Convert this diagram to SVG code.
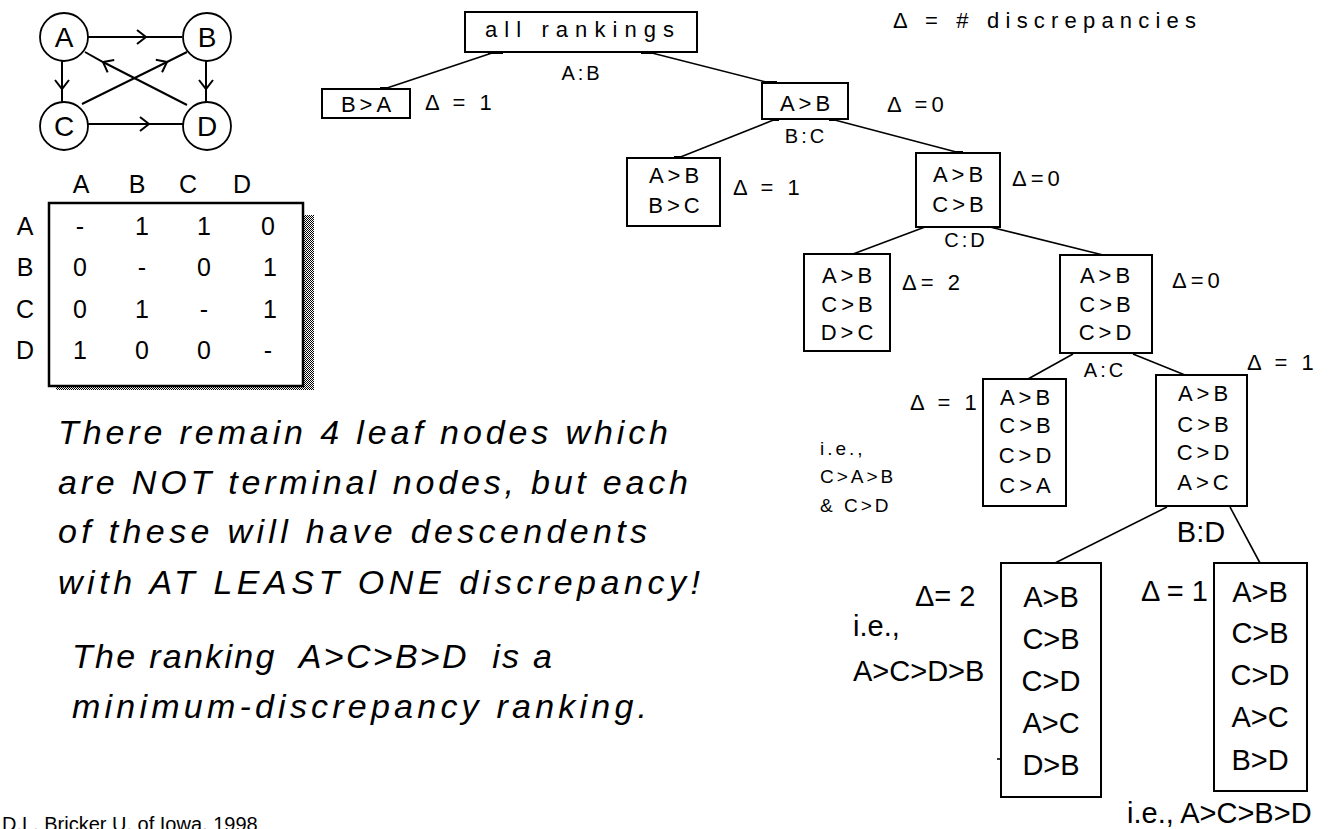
<svg xmlns="http://www.w3.org/2000/svg" width="1340" height="829" viewBox="0 0 1340 829">
<style>
  text { fill: #000; font-family: "Liberation Sans", Arial, sans-serif; }
  .px { font-size: 22px; letter-spacing: 4px; }
  .lbl { font-size: 20px; letter-spacing: 3px; text-anchor: middle; }
  .mid { text-anchor: middle; }
  .big { font-size: 29px; }
  .it { font-size: 34px; font-style: italic; }
  .mx { font-size: 25px; text-anchor: middle; }
  .nd { font-size: 28px; text-anchor: middle; }
  .cr { font-size: 20px; }
  .box { fill: #fff; stroke: #000; stroke-width: 2; }
  .edge { fill: none; stroke: #000; stroke-width: 1.6; }
  .gedge { fill: none; stroke: #000; stroke-width: 2; marker-mid: url(#chev); }
  .circ { fill: #fff; stroke: #000; stroke-width: 1.8; }
  .port { fill: #000; }
</style>
<defs>
  <marker id="chev" viewBox="-12 -10 20 20" markerWidth="20" markerHeight="20" refX="0" refY="0" orient="auto" markerUnits="userSpaceOnUse">
    <path d="M-9,-7 L0,0 L-9,7" fill="none" stroke="#000" stroke-width="2"/>
  </marker>
  <pattern id="chk" width="2" height="2" patternUnits="userSpaceOnUse">
    <rect x="0" y="0" width="1" height="1" fill="#000"/>
    <rect x="1" y="1" width="1" height="1" fill="#000"/>
  </pattern>
</defs>

<!-- small graph -->
<g id="graph-edges">
  <polyline class="gedge" points="88,37 146,37 182,37"/>
  <polyline class="gedge" points="62,61 62,89 62,102"/>
  <polyline class="gedge" points="206,61 206,89 206,102"/>
  <polyline class="gedge" points="88,124 149,124 184,124"/>
  <polyline class="gedge" points="82,104 167,62 187,52"/>
  <polyline class="gedge" points="187,105 103,62 85,52"/>
</g>
<g id="gA"><circle class="circ" cx="64" cy="37" r="24"/><text class="nd" x="64" y="47">A</text></g>
<g id="gB"><circle class="circ" cx="207" cy="37" r="24"/><text class="nd" x="207" y="47">B</text></g>
<g id="gC"><circle class="circ" cx="64" cy="126" r="24"/><text class="nd" x="64" y="136">C</text></g>
<g id="gD"><circle class="circ" cx="207" cy="126" r="24"/><text class="nd" x="207" y="136">D</text></g>

<!-- matrix -->
<g id="matrix">
  <rect x="304" y="215" width="10" height="175" fill="url(#chk)"/>
  <rect x="56" y="387" width="258" height="3" fill="url(#chk)"/>
  <rect x="49" y="203" width="254" height="183" fill="#fff" stroke="#000" stroke-width="2.5"/>
  <text class="mx" x="81" y="193">A</text>
  <text class="mx" x="137" y="193">B</text>
  <text class="mx" x="188" y="193">C</text>
  <text class="mx" x="242" y="193">D</text>
  <text class="mx" x="25" y="235">A</text>
  <text class="mx" x="25" y="276">B</text>
  <text class="mx" x="25" y="318">C</text>
  <text class="mx" x="25" y="359">D</text>
  <text class="mx" x="80" y="235">-</text><text class="mx" x="142" y="235">1</text><text class="mx" x="204" y="235">1</text><text class="mx" x="268" y="235">0</text>
  <text class="mx" x="80" y="276">0</text><text class="mx" x="142" y="276">-</text><text class="mx" x="204" y="276">0</text><text class="mx" x="270" y="276">1</text>
  <text class="mx" x="80" y="318">0</text><text class="mx" x="142" y="318">1</text><text class="mx" x="204" y="318">-</text><text class="mx" x="270" y="318">1</text>
  <text class="mx" x="80" y="359">1</text><text class="mx" x="142" y="359">0</text><text class="mx" x="204" y="359">0</text><text class="mx" x="268" y="359">-</text>
</g>

<!-- legend -->
<text id="legend" class="px" x="893" y="28" textLength="307" lengthAdjust="spacing">Δ = # discrepancies</text>

<!-- tree connectors -->
<g id="connectors">
  <line class="edge" x1="495" y1="52" x2="384" y2="89"/>
  <line class="edge" x1="648" y1="52" x2="770" y2="83"/>
  <line class="edge" x1="776" y1="119" x2="678" y2="158"/>
  <line class="edge" x1="831" y1="119" x2="960" y2="153"/>
  <line class="edge" x1="925" y1="227" x2="853" y2="254"/>
  <line class="edge" x1="990" y1="227" x2="1103" y2="255"/>
  <line class="edge" x1="1073" y1="354" x2="1028" y2="379"/>
  <line class="edge" x1="1133" y1="354" x2="1185" y2="375"/>
  <line class="edge" x1="1167" y1="507" x2="1055" y2="563"/>
  <line class="edge" x1="1230" y1="507" x2="1260" y2="563"/>
  <rect class="port" x="488" y="51" width="15" height="3"/>
  <rect class="port" x="641" y="51" width="15" height="3"/>
  <rect class="port" x="380" y="87" width="9" height="3"/>
  <rect class="port" x="762" y="81" width="15" height="3"/>
  <rect class="port" x="773" y="118" width="6" height="3"/>
  <rect class="port" x="829" y="118" width="6" height="3"/>
  <rect class="port" x="674" y="156" width="8" height="3"/>
  <rect class="port" x="955" y="151" width="8" height="3"/>
  <line class="edge" x1="997" y1="759" x2="1001" y2="759"/>
</g>
<g id="edge-labels">
  <text class="lbl" x="582" y="80">A:B</text>
  <text class="lbl" x="806" y="143">B:C</text>
  <text class="lbl" x="966" y="247">C:D</text>
  <text class="lbl" x="1105" y="377">A:C</text>
  <text class="big mid" x="1201" y="542">B:D</text>
</g>

<!-- tree nodes -->
<g id="root">
  <rect class="box" x="465" y="12" width="232" height="40"/>
  <text class="px" x="485" y="37" textLength="193" lengthAdjust="spacing">all rankings</text>
</g>
<g id="n-BA">
  <rect class="box" x="322" y="89" width="88" height="29"/>
  <text class="px mid" x="368" y="112">B&gt;A</text>
  <text class="px" x="425" y="110">Δ = 1</text>
</g>
<g id="n-AB">
  <rect class="box" x="762" y="83" width="86" height="36"/>
  <text class="px mid" x="807" y="111">A&gt;B</text>
  <text class="px" x="887" y="112">Δ =0</text>
</g>
<g id="n-AB-BC">
  <rect class="box" x="627" y="158" width="93" height="68"/>
  <text class="px mid" x="676" y="183">A&gt;B</text>
  <text class="px mid" x="676" y="213">B&gt;C</text>
  <text class="px" x="733" y="195">Δ = 1</text>
</g>
<g id="n-AB-CB">
  <rect class="box" x="916" y="153" width="84" height="74"/>
  <text class="px mid" x="960" y="182">A&gt;B</text>
  <text class="px mid" x="960" y="212">C&gt;B</text>
  <text class="px" x="1012" y="186">Δ=0</text>
</g>
<g id="n-DC">
  <rect class="box" x="804" y="254" width="86" height="97"/>
  <text class="px mid" x="849" y="283">A&gt;B</text>
  <text class="px mid" x="849" y="312">C&gt;B</text>
  <text class="px mid" x="849" y="340">D&gt;C</text>
  <text class="px" x="902" y="290">Δ= 2</text>
</g>
<g id="n-CD">
  <rect class="box" x="1060" y="255" width="92" height="98"/>
  <text class="px mid" x="1107" y="283">A&gt;B</text>
  <text class="px mid" x="1107" y="312">C&gt;B</text>
  <text class="px mid" x="1107" y="340">C&gt;D</text>
  <text class="px" x="1172" y="288">Δ=0</text>
</g>
<g id="n-CA">
  <rect class="box" x="983" y="379" width="83" height="127"/>
  <text class="px mid" x="1027" y="405">A&gt;B</text>
  <text class="px mid" x="1027" y="433">C&gt;B</text>
  <text class="px mid" x="1027" y="463">C&gt;D</text>
  <text class="px mid" x="1027" y="493">C&gt;A</text>
  <text class="px" x="910" y="410">Δ = 1</text>
  <text class="px" x="820" y="455" style="font-size:19px;letter-spacing:3px">i.e.,</text>
  <text class="px" x="820" y="483" style="font-size:19px;letter-spacing:3px">C&gt;A&gt;B</text>
  <text class="px" x="820" y="512" style="font-size:19px;letter-spacing:3px">&amp; C&gt;D</text>
</g>
<g id="n-AC">
  <rect class="box" x="1156" y="375" width="91" height="131"/>
  <text class="px mid" x="1205" y="401">A&gt;B</text>
  <text class="px mid" x="1205" y="432">C&gt;B</text>
  <text class="px mid" x="1205" y="460">C&gt;D</text>
  <text class="px mid" x="1205" y="490">A&gt;C</text>
  <text class="px" x="1247" y="370">Δ = 1</text>
</g>
<g id="n-DB">
  <rect class="box" x="1001" y="563" width="100" height="234"/>
  <text class="big mid" x="1051" y="607">A&gt;B</text>
  <text class="big mid" x="1051" y="649">C&gt;B</text>
  <text class="big mid" x="1051" y="691">C&gt;D</text>
  <text class="big mid" x="1051" y="733">A&gt;C</text>
  <text class="big mid" x="1051" y="775">D&gt;B</text>
  <text class="big" x="915" y="606">Δ= 2</text>
  <text class="big" x="853" y="636">i.e.,</text>
  <text class="big" x="853" y="681">A&gt;C&gt;D&gt;B</text>
</g>
<g id="n-BD">
  <rect class="box" x="1214" y="563" width="93" height="228"/>
  <text class="big mid" x="1260" y="602">A&gt;B</text>
  <text class="big mid" x="1260" y="643">C&gt;B</text>
  <text class="big mid" x="1260" y="685">C&gt;D</text>
  <text class="big mid" x="1260" y="727">A&gt;C</text>
  <text class="big mid" x="1260" y="770">B&gt;D</text>
  <text class="big" x="1141" y="601">Δ = 1</text>
  <text class="big" x="1127" y="823">i.e., A&gt;C&gt;B&gt;D</text>
</g>

<!-- commentary -->
<g id="notes">
  <text class="it" x="58" y="444" textLength="610" lengthAdjust="spacing">There remain 4 leaf nodes which</text>
  <text class="it" x="58" y="494" textLength="630" lengthAdjust="spacing">are NOT terminal nodes, but each</text>
  <text class="it" x="58" y="543" textLength="589" lengthAdjust="spacing">of these will have descendents</text>
  <text class="it" x="58" y="594" textLength="642" lengthAdjust="spacing">with AT LEAST ONE discrepancy!</text>
  <text class="it" x="72" y="668" textLength="480" lengthAdjust="spacing" xml:space="preserve">The ranking  A&gt;C&gt;B&gt;D  is a</text>
  <text class="it" x="72" y="718" textLength="575" lengthAdjust="spacing">minimum-discrepancy ranking.</text>
  <text class="cr" x="2" y="831">D.L. Bricker U. of Iowa, 1998</text>
</g>
</svg>
